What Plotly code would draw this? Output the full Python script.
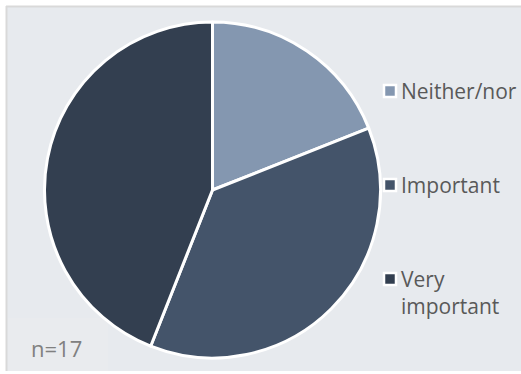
import plotly.graph_objects as go

labels = ["Neither/nor", "Important", "Very important"]
legend_text = ["Neither/nor", "Important", "Very<br>important"]
values = [19, 37, 44]
colors = ["#8497B0", "#44546A", "#333F50"]
note = "n=17"

W, H = 521, 374
cx, cy, r = 212.5, 190, 168

fig = go.Figure(go.Pie(
    labels=labels, values=values, sort=False, direction="clockwise", rotation=0,
    marker=dict(colors=colors, line=dict(color="white", width=3)),
    textinfo="none", hoverinfo="label+percent", showlegend=False,
    domain=dict(x=[(cx - r) / W, (cx + r) / W], y=[(H - cy - r) / H, (H - cy + r) / H]),
))

def px(x):
    return x / W

def py(y):
    return 1 - y / H

shapes = [
    dict(type="rect", xref="paper", yref="paper", x0=px(7), x1=1, y0=py(371), y1=py(7),
         fillcolor="#E7EAEE", line=dict(width=0), layer="below"),
    dict(type="line", xref="paper", yref="paper", x0=px(6), x1=1, y0=py(6.5), y1=py(6.5),
         line=dict(color="#D9D9D9", width=2), layer="below"),
    dict(type="line", xref="paper", yref="paper", x0=px(6.5), x1=px(6.5), y0=py(371), y1=py(6),
         line=dict(color="#D9D9D9", width=2), layer="below"),
    dict(type="rect", xref="paper", yref="paper", x0=px(8), x1=px(108), y0=py(371), y1=py(318),
         fillcolor="#E9EBEE", line=dict(width=0), layer="below"),
]
annotations = [
    dict(text=note, x=px(29), y=py(348), xref="paper", yref="paper", xanchor="left", yanchor="middle",
         showarrow=False, font=dict(family="Open Sans", size=22, color="#808080")),
]
leg_y = [91, 185, 279]
for i, (t, c) in enumerate(zip(legend_text, colors)):
    y = leg_y[i]
    shapes.append(dict(type="rect", xref="paper", yref="paper",
                       x0=px(384), x1=px(396), y0=py(y + 6), y1=py(y - 6),
                       fillcolor=c, line=dict(color="white", width=2.5)))
    annotations.append(dict(text=t, x=px(399), y=py(y - 16), xref="paper", yref="paper",
                            xanchor="left", yanchor="top", align="left", showarrow=False,
                            font=dict(family="Open Sans", size=21, color="#595959")))

fig.update_layout(
    width=W, height=H, margin=dict(l=0, r=0, t=0, b=0),
    paper_bgcolor="white", plot_bgcolor="white",
    shapes=shapes, annotations=annotations,
)
fig.write_html("out.html")
